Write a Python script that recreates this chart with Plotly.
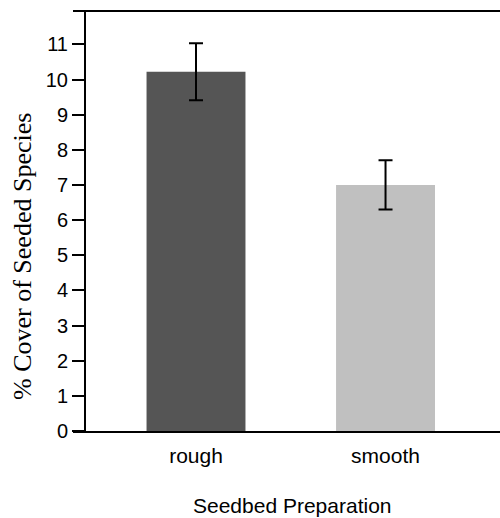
import plotly.graph_objects as go

categories = ["rough", "smooth"]
means = [10.22, 7.0]
errors = [0.81, 0.70]
colors = ["#555555", "#c0c0c0"]
ytick_vals = list(range(0, 12))

W, H = 500, 518
L, R, T, B = 73, 0, 11, 87
pw = W - L - R
ph = H - T - B

fig = go.Figure()
fig.add_trace(go.Bar(
    x=categories, y=means, width=0.522,
    marker=dict(color=colors, line=dict(width=0)),
    error_y=dict(type="data", array=errors, visible=True,
                 color="black", thickness=2, width=7),
))

fig.update_layout(
    width=W, height=H,
    margin=dict(l=L, r=R, t=T, b=B, pad=0),
    plot_bgcolor="white", paper_bgcolor="white",
    showlegend=False,
    font=dict(family="Liberation Sans, Arial, sans-serif", color="black"),
    xaxis=dict(
        range=[-0.649, 1.604],
        showline=True, linecolor="black", linewidth=2, mirror=False,
        showgrid=False, zeroline=False,
        ticks="outside", ticklen=5, tickcolor="rgba(0,0,0,0)",
        tickfont=dict(size=21),
    ),
    yaxis=dict(
        range=[0, 11.95],
        tickvals=ytick_vals,
        anchor="free", position=(85 - L) / pw,
        showline=True, linecolor="black", linewidth=2, mirror=False,
        showgrid=False, zeroline=False,
        ticks="outside", ticklen=12, tickwidth=2, tickcolor="black",
        tickfont=dict(size=20),
    ),
    shapes=[
        dict(type="line", xref="paper", yref="paper", x0=0, x1=1, y0=1, y1=1,
             line=dict(color="black", width=2)),
    ],
    annotations=[
        dict(text="% Cover of Seeded Species", xref="paper", yref="paper",
             x=(22 - L) / pw, y=(431 - 257) / ph, xanchor="center", yanchor="middle",
             textangle=-90, showarrow=False,
             font=dict(family="Liberation Serif, Times New Roman, serif", size=26)),
        dict(text="Seedbed Preparation", xref="paper", yref="paper",
             x=(292.5 - L) / pw, y=(431 - 505) / ph, xanchor="center", yanchor="middle",
             showarrow=False, font=dict(size=21)),
    ],
)

fig.write_html("out.html")
